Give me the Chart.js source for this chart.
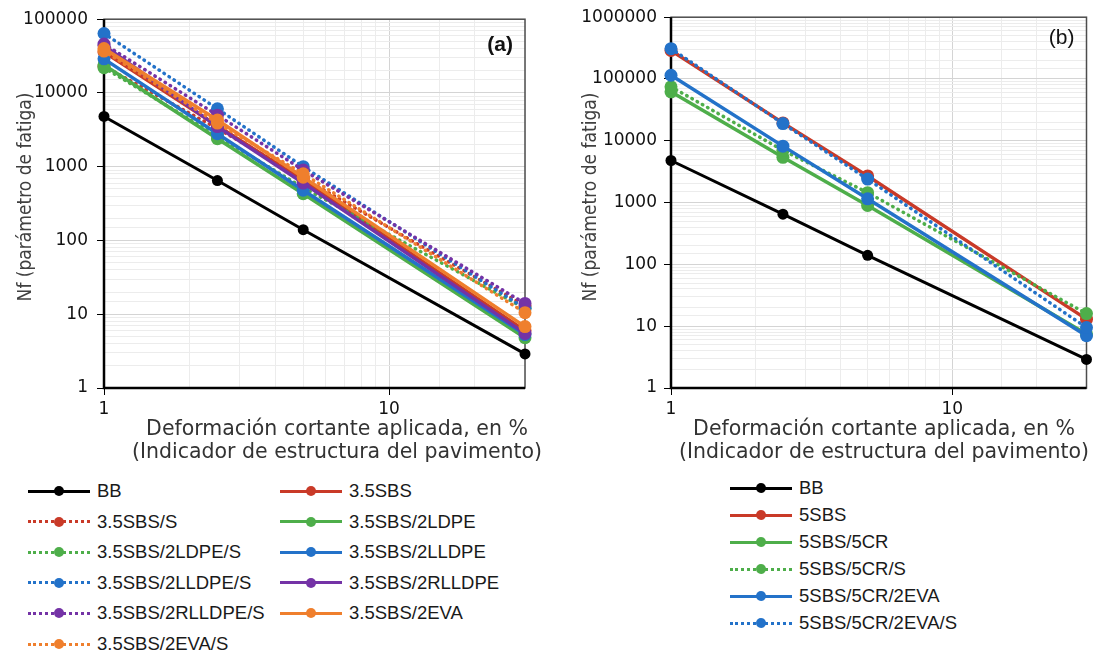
<!DOCTYPE html>
<html>
<head>
<meta charset="utf-8">
<script src="https://cdn.jsdelivr.net/npm/chart.js@4.4.1/dist/chart.umd.min.js"></script>
<style>
    body {
        margin: 0;
        background: #fff;
        width: 1093px;
        height: 657px;
        overflow: hidden;
        position: relative;
        font-family: "Liberation Sans", Arial, sans-serif;
    }
    canvas {
        position: absolute;
        top: 0;
    }
    #chartA { left: 0; }
    #chartB { left: 560px; }
    .item {
        position: absolute;
        display: flex;
        align-items: center;
        height: 20px;
        font-size: 18.5px;
        color: #1a1a1a;
        white-space: nowrap;
    }
    .sym {
        position: relative;
        width: 62px;
        height: 0;
        border-top: 3px solid;
        margin-right: 7px;
    }
    .sym.dot { border-top-style: dotted; }
    .sym i {
        position: absolute;
        left: 26px;
        top: -6.5px;
        width: 10px;
        height: 10px;
        border-radius: 50%;
    }
</style>
</head>
<body>
<canvas id="chartA" width="560" height="470"></canvas>
<canvas id="chartB" width="533" height="470"></canvas>
<div id="legA"></div>
<div id="legB"></div>
<script>
// deformacion cortante aplicada (%)
var xDef = [1, 2.5, 5, 30];
var xTicks = [1, 10];
var yTicksA = [1, 10, 100, 1000, 10000, 100000];
var yTicksB = [1, 10, 100, 1000, 10000, 100000, 1000000];

// grafica (a)
var bb = [4800, 650, 140, 2.9];
var sbs35 = [36000, 3600, 650, 6.0];
var sbs35S = [23000, 3300, 700, 13];
var sbs35Ldpe = [24000, 2400, 430, 4.8];
var sbs35LdpeS = [22000, 2600, 520, 12];
var sbs35Lldpe = [29000, 2800, 480, 5.3];
var sbs35LldpeS = [64000, 6100, 1000, 12];
var sbs35Rlldpe = [44000, 3500, 600, 5.5];
var sbs35RlldpeS = [46000, 5000, 900, 14];
var sbs35Eva = [40000, 4300, 720, 6.8];
var sbs35EvaS = [37000, 3900, 800, 10.5];

var etiquetasA = ['BB', '3.5SBS', '3.5SBS/S', '3.5SBS/2LDPE', '3.5SBS/2LDPE/S', '3.5SBS/2LLDPE',
    '3.5SBS/2LLDPE/S', '3.5SBS/2RLLDPE', '3.5SBS/2RLLDPE/S', '3.5SBS/2EVA', '3.5SBS/2EVA/S'];
var valoresA = [bb, sbs35, sbs35S, sbs35Ldpe, sbs35LdpeS, sbs35Lldpe, sbs35LldpeS,
    sbs35Rlldpe, sbs35RlldpeS, sbs35Eva, sbs35EvaS];

// grafica (b)
var sbs5 = [290000, 19500, 2700, 13];
var sbs5Cr = [62000, 5400, 900, 7.5];
var sbs5CrS = [75000, 7000, 1450, 16];
var sbs5CrEva = [115000, 8200, 1150, 7];
var sbs5CrEvaS = [310000, 19000, 2400, 9.5];

var etiquetasB = ['BB', '5SBS', '5SBS/5CR', '5SBS/5CR/S', '5SBS/5CR/2EVA', '5SBS/5CR/2EVA/S'];
var valoresB = [bb, sbs5, sbs5Cr, sbs5CrS, sbs5CrEva, sbs5CrEvaS];

var tituloX = ['Deformación cortante aplicada, en %', '(Indicador de estructura del pavimento)'];
var tituloY = 'Nf (parámetro de fatiga)';

// estilos
var negro = '#000000', rojo = '#c93a28', verde = '#4eae4a', azul = '#2372c9',
    morado = '#7433a6', naranja = '#ef7f2d';
var coloresA = [negro, rojo, rojo, verde, verde, azul, azul, morado, morado, naranja, naranja];
var punteadoA = [false, false, true, false, true, false, true, false, true, false, true];
var coloresB = [negro, rojo, verde, verde, azul, azul];
var punteadoB = [false, false, false, true, false, true];

var fuente = '"Liberation Sans", Arial, sans-serif';
var fuenteAncha = '"DejaVu Sans", sans-serif';

function esDecada(v) {
    var l = Math.log10(v);
    return Math.abs(l - Math.round(l)) < 1e-9;
}

function hacerDatasets(etiquetas, valores, colores, punteado) {
    return etiquetas.map(function (lab, i) {
        return {
            label: lab,
            data: xDef.map(function (x, j) {
                return {x: x, y: valores[i][j]};
            }),
            borderColor: colores[i],
            backgroundColor: colores[i],
            borderWidth: i === 0 ? 3 : 3.5,
            borderDash: punteado[i] ? [0.5, 5.5] : [],
            borderCapStyle: punteado[i] ? 'round' : 'butt',
            pointRadius: i === 0 ? 5.5 : 6.5,
            pointBorderWidth: 0,
            pointBackgroundColor: colores[i],
            tension: 0,
            clip: false,
            order: etiquetas.length - i
        };
    });
}

function crearGrafica(id, datasets, cfg) {
    var dibujos = {
        id: 'dibujos',
        beforeDatasetsDraw: function (chart) {
            var a = chart.chartArea;
            var ctx = chart.ctx;
            ctx.save();
            ctx.strokeStyle = '#4d4d4d';
            ctx.lineWidth = 1.5;
            ctx.strokeRect(a.left, a.top, a.right - a.left, a.bottom - a.top);
            ctx.strokeStyle = '#000';
            ctx.lineWidth = 2.5;
            ctx.beginPath();
            ctx.moveTo(a.left, a.top);
            ctx.lineTo(a.left, a.bottom);
            ctx.lineTo(a.right, a.bottom);
            ctx.stroke();
            ctx.restore();
        },
        afterDraw: function (chart) {
            var ctx = chart.ctx;
            var a = chart.chartArea;
            ctx.save();
            ctx.fillStyle = '#111';
            ctx.font = cfg.panelFont + ' ' + fuente;
            ctx.textAlign = 'right';
            ctx.textBaseline = 'middle';
            ctx.fillText(cfg.panel, a.right - 12, a.top + cfg.panelY);
            // titulo eje x
            ctx.fillStyle = '#333';
            ctx.textAlign = 'center';
            ctx.font = '20.5px ' + fuenteAncha;
            ctx.fillText(tituloX[0], cfg.tituloXc, 430);
            ctx.fillText(tituloX[1], cfg.tituloXc, 453);
            // titulo eje y
            ctx.translate(cfg.tituloYx, 197);
            ctx.rotate(-Math.PI / 2);
            ctx.fillStyle = '#404040';
            ctx.font = '19px "DejaVu Sans Condensed", ' + fuenteAncha;
            ctx.fillText(tituloY, 0, 0);
            ctx.restore();
        }
    };

    return new Chart(document.getElementById(id), {
        type: 'line',
        data: {datasets: datasets},
        options: {
            responsive: false,
            animation: false,
            events: [],
            layout: {
                padding: {top: 17, right: cfg.padRight, left: 0, bottom: 0}
            },
            plugins: {
                legend: {display: false},
                tooltip: {enabled: false}
            },
            scales: {
                x: {
                    type: 'logarithmic',
                    min: 1,
                    max: 30,
                    border: {display: false},
                    grid: {
                        color: function (c) {
                            return esDecada(c.tick.value) ? '#d4d4d4' : '#ececec';
                        },
                        lineWidth: 1,
                        tickLength: 7,
                        tickColor: function (c) {
                            return xTicks.indexOf(c.tick.value) >= 0 ? '#000' : 'rgba(0,0,0,0)';
                        }
                    },
                    ticks: {
                        autoSkip: false,
                        maxRotation: 0,
                        padding: 4,
                        color: '#111',
                        font: {family: fuenteAncha, size: 17},
                        callback: function (v) {
                            return xTicks.indexOf(v) >= 0 ? String(v) : '';
                        }
                    },
                    afterFit: function (s) {
                        s.height = 82;
                    }
                },
                y: {
                    type: 'logarithmic',
                    min: 1,
                    max: cfg.yMax,
                    border: {display: false},
                    grid: {
                        color: function (c) {
                            return esDecada(c.tick.value) ? '#d4d4d4' : '#ececec';
                        },
                        lineWidth: 1,
                        tickLength: 7,
                        tickColor: function (c) {
                            return esDecada(c.tick.value) ? '#000' : 'rgba(0,0,0,0)';
                        }
                    },
                    ticks: {
                        autoSkip: false,
                        padding: cfg.yPad,
                        color: '#111',
                        font: {family: fuenteAncha, size: 17},
                        callback: function (v) {
                            return cfg.yTicks.indexOf(v) >= 0 ? String(v) : '';
                        }
                    },
                    afterFit: function (s) {
                        s.width = cfg.yWidth;
                    }
                }
            }
        },
        plugins: [dibujos]
    });
}

function crearLeyenda(id, etiquetas, colores, punteado, x0, anchoCol, cols, y0, paso) {
    var cont = document.getElementById(id);
    etiquetas.forEach(function (lab, i) {
        var col = i % cols;
        var fila = Math.floor(i / cols);
        var item = document.createElement('div');
        item.className = 'item';
        item.style.left = (x0 + col * anchoCol) + 'px';
        item.style.top = (y0 + fila * paso - 10) + 'px';
        var sym = document.createElement('span');
        sym.className = punteado[i] ? 'sym dot' : 'sym';
        sym.style.borderTopColor = colores[i];
        var punto = document.createElement('i');
        punto.style.background = colores[i];
        sym.appendChild(punto);
        item.appendChild(sym);
        item.appendChild(document.createTextNode(lab));
        cont.appendChild(item);
    });
}

crearGrafica('chartA', hacerDatasets(etiquetasA, valoresA, coloresA, punteadoA), {
    yMax: 100000, yTicks: yTicksA, yWidth: 104, yPad: 9, tituloYx: 26,
    padRight: 35, panel: '(a)', panelFont: 'bold 21px', panelY: 26, tituloXc: 337
});

crearGrafica('chartB', hacerDatasets(etiquetasB, valoresB, coloresB, punteadoB), {
    yMax: 1000000, yTicks: yTicksB, yWidth: 111, yPad: 7, tituloYx: 31,
    padRight: 2, panel: '(b)', panelFont: 'normal 21px', panelY: 21, tituloXc: 324
});

crearLeyenda('legA', etiquetasA, coloresA, punteadoA, 28, 252, 2, 491, 30.6);
crearLeyenda('legB', etiquetasB, coloresB, punteadoB, 730, 0, 1, 488, 27);
</script>
</body>
</html>
